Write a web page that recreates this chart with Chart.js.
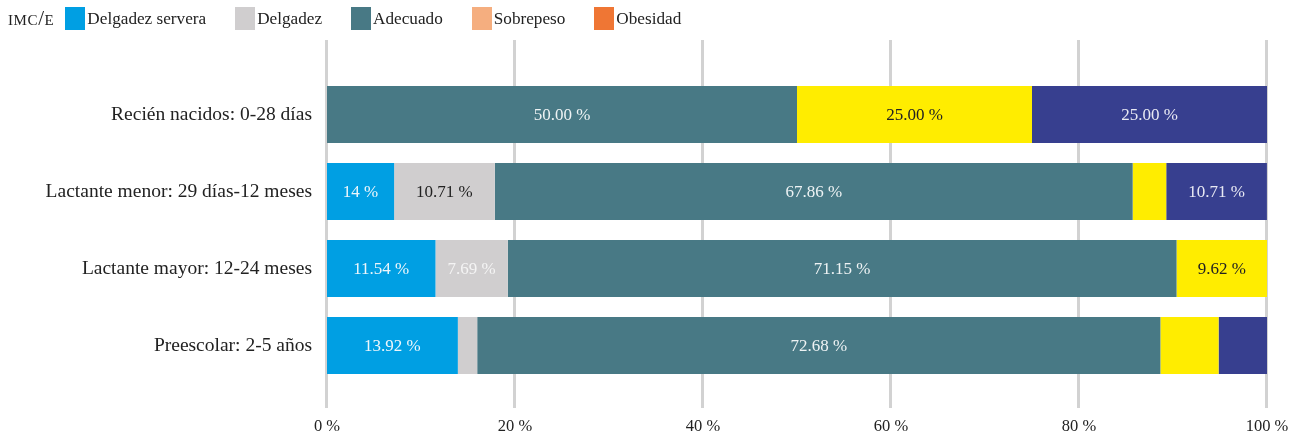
<!DOCTYPE html>
<html>
<head>
<meta charset="utf-8">
<script src="https://cdn.jsdelivr.net/npm/chart.js@4"></script>
<style>
  html, body { margin: 0; padding: 0; background: #fff; }
  #wrap { position: relative; width: 1296px; height: 435px; }
  #legend { position: absolute; left: 8px; top: 7px; height: 23px; display: flex; align-items: center;
            font-family: "Liberation Serif", "DejaVu Serif", serif; font-size: 17.2px; color: #222; }
  #legend .title { font-variant: small-caps; font-size: 21px; margin-right: 11px; letter-spacing: 0.6px; }
  #legend .item { display: flex; align-items: center; margin-right: 29px; }
  #legend .box { width: 20px; height: 23px; margin-right: 2px; }
  canvas { position: absolute; left: 0; top: 0; }
</style>
</head>
<body>
<div id="wrap">
  <canvas id="c" width="1296" height="435"></canvas>
  <div id="legend"></div>
</div>
<script>
const categories = [
  "Recién nacidos: 0-28 días",
  "Lactante menor: 29 días-12 meses",
  "Lactante mayor: 12-24 meses",
  "Preescolar: 2-5 años"
];
const seriesNames = ["Delgadez servera", "Delgadez", "Adecuado", "Sobrepeso", "Obesidad"];
const delgadezServera = [0, 7.14, 11.54, 13.92];
const delgadez = [0, 10.71, 7.69, 2.06];
const adecuado = [50.00, 67.86, 71.15, 72.68];
const sobrepeso = [25.00, 3.57, 9.62, 6.19];
const obesidad = [25.00, 10.71, 0, 5.15];

const labelsDelgadezServera = ["", "14 %", "11.54 %", "13.92 %"];
const labelsDelgadez = ["", "10.71 %", "7.69 %", ""];
const labelsAdecuado = ["50.00 %", "67.86 %", "71.15 %", "72.68 %"];
const labelsSobrepeso = ["25.00 %", "", "9.62 %", ""];
const labelsObesidad = ["25.00 %", "10.71 %", "", ""];

const labelColorsDelgadezServera = ["#ffffff", "#eef6fb", "#eef6fb", "#eef6fb"];
const labelColorsDelgadez = ["#222", "#222", "#f4f4f4", "#222"];
const labelColorsAdecuado = ["#eef3f4", "#eef3f4", "#eef3f4", "#eef3f4"];
const labelColorsSobrepeso = ["#222", "#222", "#222", "#222"];
const labelColorsObesidad = ["#e8e9f3", "#e8e9f3", "#e8e9f3", "#e8e9f3"];

const xTickValues = [0, 20, 40, 60, 80, 100];

const barColors = ["#009FE3", "#D0CECF", "#487985", "#FFED00", "#373F8F"];
const legendColors = ["#009FE3", "#D0CECF", "#487985", "#F5AE7F", "#EF7634"];

const FONT = '"Liberation Serif", "DejaVu Serif", serif';

// HTML legend
const lg = document.getElementById('legend');
const t = document.createElement('span'); t.className = 'title'; t.textContent = 'imc/e'; lg.appendChild(t);
seriesNames.forEach((n, i) => {
  const it = document.createElement('span'); it.className = 'item';
  const b = document.createElement('span'); b.className = 'box'; b.style.background = legendColors[i];
  const s = document.createElement('span'); s.textContent = n;
  it.appendChild(b); it.appendChild(s); lg.appendChild(it);
});

const seriesValues = [delgadezServera, delgadez, adecuado, sobrepeso, obesidad];
const seriesLabels = [labelsDelgadezServera, labelsDelgadez, labelsAdecuado, labelsSobrepeso, labelsObesidad];
const seriesLabelColors = [labelColorsDelgadezServera, labelColorsDelgadez, labelColorsAdecuado, labelColorsSobrepeso, labelColorsObesidad];

const gridPlugin = {
  id: 'gridLines',
  beforeDatasetsDraw(chart) {
    const ctx = chart.ctx, xs = chart.scales.x, ca = chart.chartArea;
    ctx.save();
    ctx.strokeStyle = '#D2D2D2';
    ctx.lineWidth = 3;
    xTickValues.forEach(v => {
      const px = Math.round(xs.getPixelForValue(v)) - 0.5;
      ctx.beginPath();
      ctx.moveTo(px, ca.top - 36);
      ctx.lineTo(px, ca.bottom + 24);
      ctx.stroke();
    });
    ctx.restore();
  }
};

const labelPlugin = {
  id: 'barLabels',
  afterDatasetsDraw(chart) {
    const ctx = chart.ctx;
    ctx.save();
    ctx.font = '17px ' + FONT;
    ctx.textAlign = 'center';
    ctx.textBaseline = 'middle';
    chart.data.datasets.forEach((ds, di) => {
      const meta = chart.getDatasetMeta(di);
      meta.data.forEach((el, i) => {
        const txt = seriesLabels[di][i];
        if (!txt) return;
        ctx.fillStyle = seriesLabelColors[di][i];
        ctx.fillText(txt, (el.base + el.x) / 2, el.y + 1);
      });
    });
    ctx.restore();
  }
};

new Chart(document.getElementById('c'), {
  type: 'bar',
  data: {
    labels: categories,
    datasets: seriesNames.map((n, i) => ({
      label: n,
      data: seriesValues[i],
      backgroundColor: barColors[i],
      borderWidth: 0,
      categoryPercentage: 1,
      barPercentage: 0.74
    }))
  },
  options: {
    indexAxis: 'y',
    responsive: false,
    animation: false,
    layout: { padding: { top: 76, right: 29, left: 0, bottom: 0 } },
    plugins: { legend: { display: false }, tooltip: { enabled: false } },
    scales: {
      x: {
        stacked: true,
        min: 0, max: 100,
        afterBuildTicks: s => { s.ticks = xTickValues.map(v => ({ value: v })); },
        afterFit: s => { s.height = 51; s.paddingLeft = 0; s.paddingRight = 0; },
        grid: { display: false, drawTicks: false },
        border: { display: false },
        ticks: {
          padding: 33,
          color: '#222',
          font: { family: FONT, size: 16.5 },
          callback: v => v + ' %'
        }
      },
      y: {
        stacked: true,
        afterFit: s => { s.width = 327; s.paddingTop = 0; s.paddingBottom = 0; },
        grid: { display: false, drawTicks: false },
        border: { display: false },
        ticks: {
          padding: 15,
          color: '#222',
          font: { family: FONT, size: 19.5 }
        }
      }
    }
  },
  plugins: [gridPlugin, labelPlugin]
});
</script>
</body>
</html>
